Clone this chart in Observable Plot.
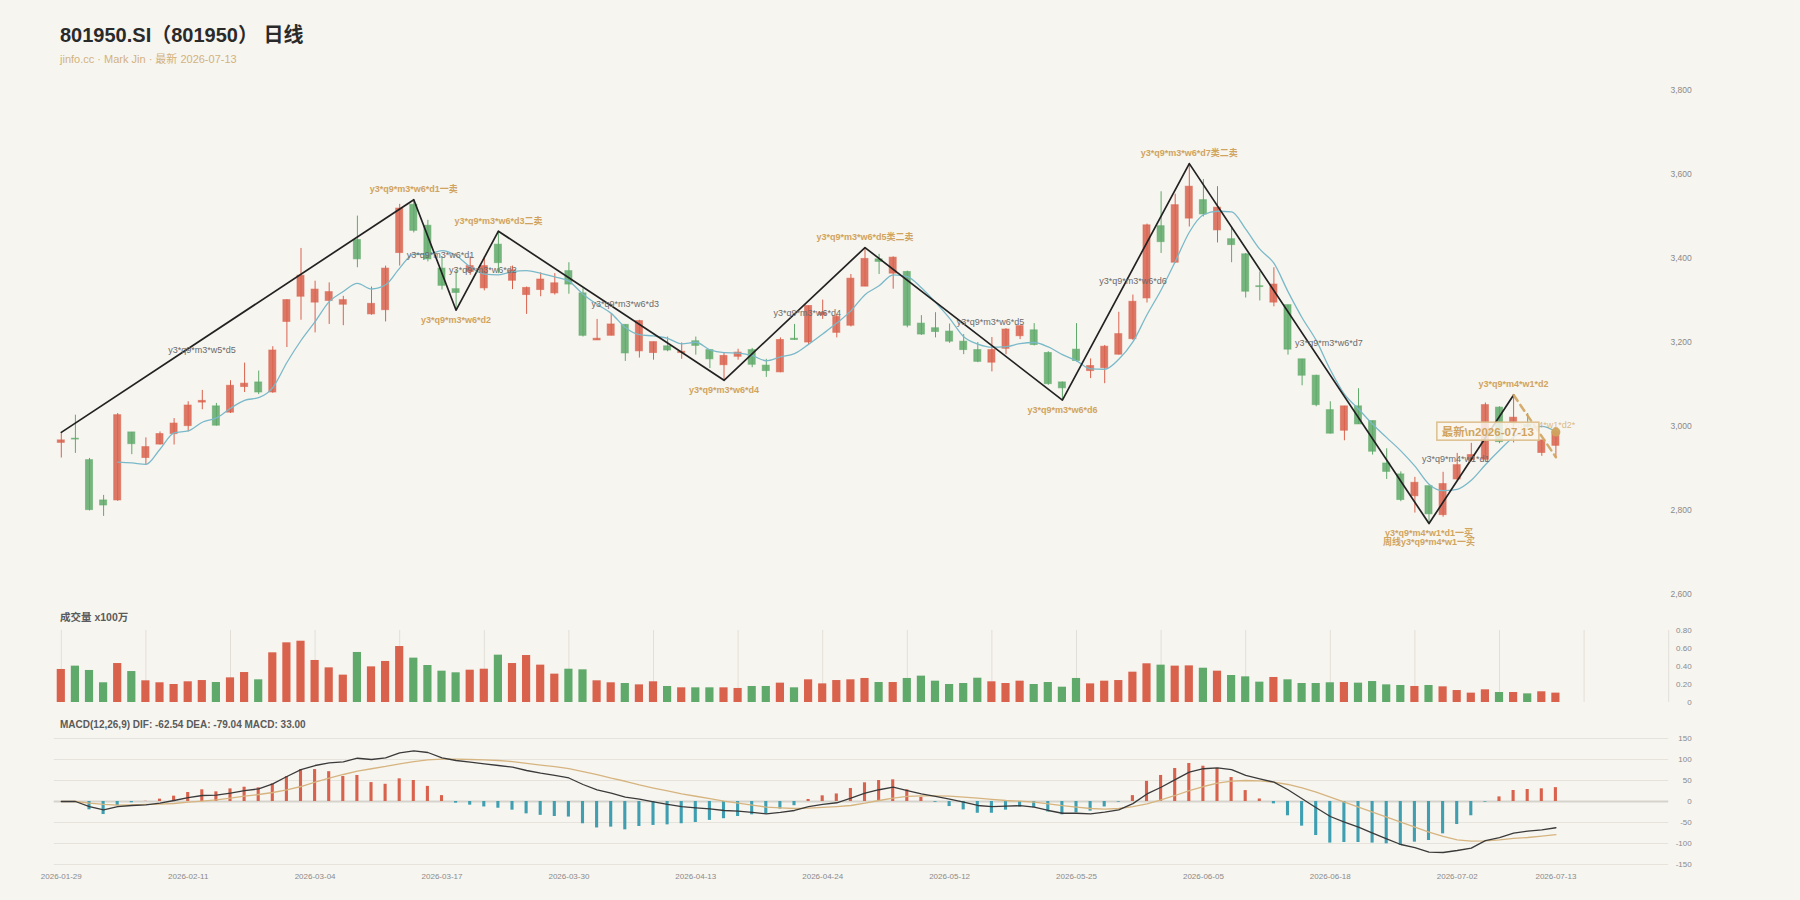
<!DOCTYPE html>
<html><head><meta charset="utf-8">
<script src="https://cdn.jsdelivr.net/npm/d3@7"></script>
<script src="https://cdn.jsdelivr.net/npm/@observablehq/plot@0.6"></script>
<style>
body{margin:0;background:#f7f5f0;font-family:"Liberation Sans","Noto Sans CJK SC",sans-serif;}
#wrap{position:relative;width:1800px;height:900px;overflow:hidden;background:#f7f5f0}
.title{position:absolute;left:60px;top:25px;font-size:20px;line-height:20px;font-weight:bold;color:#2a2a2a;white-space:nowrap}
.sub{position:absolute;left:60px;top:54px;font-size:11px;line-height:11px;color:#d2b27e;white-space:nowrap}
.ptitle{position:absolute;left:60px;font-size:10.5px;line-height:12px;font-weight:bold;color:#5a5a5a;white-space:nowrap}
.panel{position:absolute;left:0}
.panel svg{display:block}
</style></head>
<body><div id="wrap">
<div class="title">801950.SI（801950） 日线</div>
<div class="sub">jinfo.cc · Mark Jin · 最新 2026-07-13</div>
<div id="price" class="panel" style="top:70px"></div>
<div class="ptitle" style="top:611px">成交量 x100万</div>
<div id="vol" class="panel" style="top:622px"></div>
<div class="ptitle" style="top:719px;font-size:10px">MACD(12,26,9) DIF: -62.54 DEA: -79.04 MACD: 33.00</div>
<div id="macd" class="panel" style="top:730px"></div>
</div>
<script>
const dates = ["2026-01-29","2026-01-30","2026-02-02","2026-02-03","2026-02-04","2026-02-05","2026-02-06","2026-02-09","2026-02-10","2026-02-11",
"2026-02-12","2026-02-13","2026-02-24","2026-02-25","2026-02-26","2026-02-27","2026-03-02","2026-03-03","2026-03-04","2026-03-05",
"2026-03-06","2026-03-09","2026-03-10","2026-03-11","2026-03-12","2026-03-13","2026-03-16","2026-03-17","2026-03-18","2026-03-19",
"2026-03-20","2026-03-23","2026-03-24","2026-03-25","2026-03-26","2026-03-27","2026-03-30","2026-03-31","2026-04-01","2026-04-02",
"2026-04-03","2026-04-07","2026-04-08","2026-04-09","2026-04-10","2026-04-13","2026-04-14","2026-04-15","2026-04-16","2026-04-17",
"2026-04-20","2026-04-21","2026-04-22","2026-04-23","2026-04-24","2026-04-27","2026-04-28","2026-04-29","2026-04-30","2026-05-06",
"2026-05-07","2026-05-08","2026-05-11","2026-05-12","2026-05-13","2026-05-14","2026-05-15","2026-05-18","2026-05-19","2026-05-20",
"2026-05-21","2026-05-22","2026-05-25","2026-05-26","2026-05-27","2026-05-28","2026-05-29","2026-06-01","2026-06-02","2026-06-03",
"2026-06-04","2026-06-05","2026-06-08","2026-06-09","2026-06-10","2026-06-11","2026-06-12","2026-06-15","2026-06-16","2026-06-17",
"2026-06-18","2026-06-22","2026-06-23","2026-06-24","2026-06-25","2026-06-26","2026-06-29","2026-06-30","2026-07-01","2026-07-02",
"2026-07-03","2026-07-06","2026-07-07","2026-07-08","2026-07-09","2026-07-10","2026-07-13"];

const open = [2960,2970,2919,2823,2823,2985,2924,2956,2981,3000,
3056,3047,3032,3093,3104,3080,3248,3308,3294,3298,
3289,3443,3266,3276,3412,3527,3477,3375,3326,3367,
3328,3432,3346,3312,3324,3316,3369,3316,3204,3215,
3241,3178,3174,3190,3174,3202,3181,3145,3165,3181,
3144,3128,3208,3199,3264,3222,3239,3332,3397,3363,
3367,3244,3233,3225,3201,3181,3151,3184,3214,3228,
3174,3104,3182,3131,3138,3170,3207,3304,3476,3389,
3494,3538,3466,3445,3409,3333,3294,3288,3159,3120,
3038,2989,3047,3012,2911,2885,2833,2857,2788,2873,
2919,2920,3044,3007,3003,2936,2953];
const high = [2982,3026,2923,2835,3030,2985,2972,2986,3018,3058,
3085,3054,3108,3150,3131,3189,3301,3423,3345,3341,
3309,3500,3331,3381,3528,3539,3490,3403,3371,3403,
3403,3464,3381,3331,3365,3363,3389,3327,3254,3266,
3241,3252,3200,3212,3198,3212,3181,3174,3183,3185,
3159,3210,3242,3286,3300,3266,3361,3425,3409,3403,
3369,3263,3270,3243,3218,3199,3211,3232,3238,3244,
3177,3105,3244,3160,3192,3271,3312,3481,3558,3552,
3625,3587,3570,3474,3411,3367,3377,3288,3159,3121,
3058,3047,3089,3012,2946,2891,2878,2857,2890,2935,
2959,3055,3046,3074,3030,2966,2994];
const low = [2924,2935,2798,2785,2821,2932,2907,2955,2955,2986,
3039,3000,3030,3080,3075,3078,3187,3252,3222,3242,
3239,3377,3264,3248,3381,3460,3391,3324,3276,3359,
3322,3363,3325,3266,3308,3312,3314,3212,3204,3215,
3154,3162,3157,3177,3159,3169,3137,3109,3157,3139,
3116,3127,3204,3194,3254,3210,3236,3332,3361,3326,
3234,3216,3210,3197,3170,3151,3129,3170,3206,3191,
3097,3062,3153,3113,3101,3169,3204,3293,3411,3387,
3474,3498,3436,3389,3305,3298,3284,3169,3096,3046,
2981,2965,3004,2931,2873,2820,2793,2768,2783,2870,
2915,2915,2958,2960,2990,2928,2924];
const close = [2966,2968,2800,2811,3026,2957,2950,2981,3006,3049,
3060,3001,3096,3101,3080,3180,3300,3358,3325,3319,
3300,3397,3291,3375,3518,3465,3397,3334,3317,3381,
3381,3388,3371,3329,3349,3340,3337,3215,3208,3242,
3173,3250,3200,3180,3177,3191,3159,3167,3175,3146,
3131,3205,3205,3286,3270,3260,3351,3398,3391,3401,
3239,3218,3224,3201,3181,3153,3181,3230,3238,3193,
3100,3090,3155,3143,3189,3219,3296,3478,3438,3526,
3570,3504,3520,3431,3320,3331,3337,3182,3120,3050,
2982,3047,3004,2939,2891,2824,2865,2790,2862,2907,
2931,3050,2962,3020,2998,2966,2986];
const volume = [0.367,0.404,0.356,0.219,0.433,0.344,0.241,0.219,0.200,0.230,
0.244,0.222,0.274,0.333,0.252,0.552,0.663,0.681,0.467,0.385,
0.304,0.556,0.396,0.456,0.622,0.493,0.411,0.348,0.330,0.359,
0.370,0.526,0.433,0.522,0.415,0.315,0.370,0.363,0.241,0.219,
0.211,0.196,0.230,0.178,0.163,0.163,0.163,0.163,0.156,0.178,
0.178,0.215,0.163,0.252,0.207,0.244,0.252,0.267,0.222,0.222,
0.267,0.293,0.237,0.200,0.211,0.270,0.230,0.211,0.237,0.200,
0.222,0.170,0.267,0.207,0.237,0.244,0.337,0.430,0.415,0.404,
0.407,0.381,0.348,0.300,0.285,0.226,0.278,0.252,0.211,0.211,
0.219,0.222,0.215,0.233,0.196,0.189,0.178,0.189,0.174,0.133,
0.104,0.141,0.111,0.111,0.096,0.119,0.104];
const dif = [0,0,-12,-20,-12,-9.5,-8,-4,2.4,9,
14.3,15,20,26,30,42,59.5,76,85.7,92,
94.5,103,100,104,116,120.6,116.7,104,97.6,93.7,
89.7,85.7,81.8,73.8,67.5,62,56,40.5,27.8,20,
10.3,5.6,-0.8,-7,-12,-15,-17.5,-21.4,-23,-26,
-29.4,-26,-21.4,-12,-7,-3,8,20,28,34,
26,18,12,5.6,-1.6,-9.5,-12,-11,-10,-13.5,
-21.4,-28,-28,-29.4,-25.4,-20,-5,18,34,52,
70,78,80,76,62,54,46,28,6.4,-15,
-35.7,-49,-61,-75.4,-89,-102.4,-110,-120.6,-121.4,-116.7,
-111,-93,-86,-75.4,-70.6,-67.5,-62.54];
const dea = [0,0,-4,-7,-8.7,-8,-7,-6.3,-4.8,-1.6,
1,4,8,12.7,16.7,21.4,27.8,35.7,46,55.6,
64.3,72.2,78,83.4,89.7,95,99,101,101,100,
99,97.6,95,90.7,86.8,82.8,78.1,71.2,63.8,55.4,
48.2,39.6,32.1,25.1,18.4,12.5,6.9,0.8,-3.8,-8.5,
-13.3,-15,-16.7,-16,-14,-12,-9.5,-4,2.4,8,
12,13.5,13.5,12.7,10.3,8,5,2.4,0.8,-1.6,
-5.6,-10,-13.5,-16.7,-18,-16.7,-12,-5.6,4,14.3,
26,35.7,43.7,48.4,50,49,46,40.5,32.5,22.2,
10.3,-1.6,-13.5,-25.4,-37.3,-49,-61,-73,-83.3,-91.3,
-94.4,-93.6,-91.3,-88,-85.7,-82.5,-79.04];
const macdHist = [0,0,-19.8,-31,-10,-3,0.5,5.6,12.7,21.4,
27.8,23,30,34,32.5,42,59.5,76,76,71,
59.5,62,45,41,54,50,36,14,-4,-8.7,
-13,-16,-20.6,-29.4,-33,-35.7,-37,-53,-63,-61,
-67.5,-59.5,-57,-55.6,-53,-50,-45,-41,-35.7,-31.7,
-29.4,-18,-10,4.8,13.5,18,31,44.5,50,51.6,
27.8,10,-2,-12,-20,-28,-28,-20.6,-13,-15,
-25,-31.7,-27,-23,-13,-1.6,14,48,62,78.6,
90.5,84,78.6,57,26,6,-5.6,-34,-58.7,-81,
-99,-97.6,-97.6,-99,-100.8,-104.7,-96.8,-92.9,-77,-54.8,
-34,-1.6,11,26.2,28.6,30.2,33];

// zigzag pivots
const pivotIdx = [0,25,28,31,47,57,71,80,97,103];
const pivotPrice = [2985,3539,3276,3464,3109,3425,3062,3625,2768,3074];
// pending (dashed) leg
const pendIdx = [103,106];
const pendPrice = [3074,2926];
// signal labels at pivots
const sigIdx = [25,31,28,47,57,71,80,97,103];
const sigPrice = [3539,3464,3276,3109,3425,3062,3625,2768,3074];
const sigText = ["y3*q9*m3*w6*d1一卖","y3*q9*m3*w6*d3二卖","y3*q9*m3*w6*d2","y3*q9*m3*w6*d4","y3*q9*m3*w6*d5类二卖","y3*q9*m3*w6*d6","y3*q9*m3*w6*d7类二卖","y3*q9*m4*w1*d1一买\n周线y3*q9*m4*w1一买","y3*q9*m4*w1*d2"];
const sigSide = ["top","top","bottom","bottom","top","bottom","top","bottom","top"];
// segment labels
const segIdx = [9.98,26.9,29.9,40,52.9,65.9,76,89.9,98.9];
const segPrice = [3181,3408,3371,3290,3270,3247,3345,3198,2921];
const segText = ["y3*q9*m3*w5*d5","y3*q9*m3*w6*d1","y3*q9*m3*w6*d2","y3*q9*m3*w6*d3","y3*q9*m3*w6*d4","y3*q9*m3*w6*d5","y3*q9*m3*w6*d6","y3*q9*m3*w6*d7","y3*q9*m4*w1*d1"];
const pendLabelIdx = [104.85];
const pendLabelPrice = [3002];
const pendLabelText = ["y3*q9*m4*w1*d2*"];
const latestText = "最新\\n2026-07-13";

// ticks
const priceTicks = [2600,2800,3000,3200,3400,3600,3800];
const volTicks = [0,0.2,0.4,0.6,0.8];
const macdTicks = [-150,-100,-50,0,50,100,150];
const dateTickIdx = [0,9,18,27,36,45,54,63,72,81,90,99,106];
const volGridIdx = [0,6,12,18,24,30,36,42,48,54,60,66,72,78,84,90,96,102,108,114];

// ---------- build ----------
const RED = "#d9624d", GREEN = "#5fa96a", GOLD = "#d0a45e";
const FONT = '"Liberation Sans","Noto Sans CJK SC",sans-serif';
const candles = dates.map((d, i) => ({i, date: d, open: open[i], high: high[i], low: low[i], close: close[i], vol: volume[i],
  dif: dif[i], dea: dea[i], hist: macdHist[i], col: close[i] >= open[i] ? RED : GREEN}));
const pivots = pivotIdx.map((x, k) => ({x, p: pivotPrice[k]}));
const pend = pendIdx.map((x, k) => ({x, p: pendPrice[k]}));
const sigs = sigIdx.map((x, k) => ({x, p: sigPrice[k], t: sigText[k], side: sigSide[k]}));
const segs = segIdx.map((x, k) => ({x, p: segPrice[k], t: segText[k]}));
const pendLab = pendLabelIdx.map((x, k) => ({x, p: pendLabelPrice[k], t: pendLabelText[k]}));
const last = candles[candles.length - 1];

const W = 1800;
const xDomain = [-0.5, 114];
const ML = 53.75, MR = W - 1668.2;
const baseStyle = {background: "transparent", fontFamily: FONT, overflow: "visible"};

const priceSvg = Plot.plot({
  width: W, height: 540, marginTop: 19.6, marginBottom: 16.4, marginLeft: ML, marginRight: MR,
  style: baseStyle,
  x: {domain: xDomain, axis: null},
  y: {domain: [2600, 3800], axis: null},
  marks: [
    Plot.axisY({ticks: priceTicks, anchor: "right", tickSize: 0, tickPadding: 23, textAnchor: "end", label: null,
      tickFormat: d3.format(","), fill: "#8a8a8a", fontSize: 8.5}),
    Plot.ruleX(candles, {x: "i", y1: "low", y2: "high", stroke: "col", strokeWidth: 1}),
    Plot.rect(candles, {x1: d => d.i - 0.25, x2: d => d.i + 0.25, y1: "open", y2: "close",
      fill: "col", fillOpacity: 0.85, stroke: "col", strokeOpacity: 0.55, strokeWidth: 1}),
    Plot.lineY(candles, Plot.windowY({k: 5, anchor: "end", strict: true},
      {x: "i", y: "close", stroke: "#7ab9c9", strokeWidth: 1.3, curve: "monotone-x"})),
    Plot.line(pivots, {x: "x", y: "p", stroke: "#222", strokeWidth: 1.7}),
    Plot.line(pend, {x: "x", y: "p", stroke: GOLD, strokeWidth: 2.5, strokeDasharray: "7,5", strokeOpacity: 0.9}),
    Plot.text(segs, {x: "x", y: "p", text: "t", fill: "#6a6a6a", fontSize: 9, fontFamily: FONT}),
    Plot.text(pendLab, {x: "x", y: "p", text: "t", fill: GOLD, fillOpacity: 0.75, fontSize: 9, fontFamily: FONT}),
    Plot.text(sigs.filter(d => d.side === "top"), {x: "x", y: "p", text: "t", fill: GOLD, fontWeight: "bold",
      fontSize: 9, fontFamily: FONT, lineAnchor: "middle", dy: -10.5}),
    Plot.text(sigs.filter(d => d.side === "bottom"), {x: "x", y: "p", text: "t", fill: GOLD, fontWeight: "bold",
      fontSize: 9, fontFamily: FONT, lineAnchor: "top", dy: 6.5, lineHeight: 1}),
    Plot.dot([last], {x: "i", y: "close", r: 4.5, fill: GOLD, fillOpacity: 0.95}),
    Plot.text([last], {x: "i", y: "close", text: () => latestText, textAnchor: "end", dx: -22,
      fill: GOLD, fontWeight: "bold", fontSize: 11.5, fontFamily: FONT})
  ]
});
document.getElementById("price").appendChild(priceSvg);
// box behind the latest label
{
  const tg = priceSvg.querySelectorAll('g[aria-label="text"]');
  const g = tg[tg.length - 1];
  const bb = g.getBBox();
  const r = document.createElementNS("http://www.w3.org/2000/svg", "rect");
  r.setAttribute("x", bb.x - 5); r.setAttribute("y", bb.y - 2.5);
  r.setAttribute("width", bb.width + 10); r.setAttribute("height", bb.height + 5);
  r.setAttribute("fill", "rgba(250,246,237,0.85)"); r.setAttribute("stroke", "#dcbf8c"); r.setAttribute("stroke-width", "1.5");
  g.insertBefore(r, g.firstChild);
}

const volSvg = Plot.plot({
  width: W, height: 86, marginTop: 8, marginBottom: 6, marginLeft: ML, marginRight: MR,
  style: baseStyle,
  x: {domain: xDomain, axis: null},
  y: {domain: [0, 0.8], axis: null},
  marks: [
    Plot.gridX({ticks: volGridIdx, stroke: "#e2dfd8", strokeOpacity: 1}),
    Plot.axisY({ticks: volTicks, anchor: "right", tickSize: 0, tickPadding: 23, textAnchor: "end", label: null,
      tickFormat: d => d === 0 ? "0" : d.toFixed(2), fill: "#8a8a8a", fontSize: 8}),
    Plot.rectY(candles, {x1: d => d.i - 0.29, x2: d => d.i + 0.29, y: "vol", fill: "col"})
  ]
});
document.getElementById("vol").appendChild(volSvg);

const macdSvg = Plot.plot({
  width: W, height: 160, marginTop: 8, marginBottom: 26, marginLeft: ML, marginRight: MR,
  style: baseStyle,
  x: {domain: xDomain, axis: null},
  y: {domain: [-150, 150], axis: null},
  marks: [
    Plot.gridY({ticks: macdTicks, stroke: "#e6e3dc", strokeOpacity: 1}),
    Plot.ruleY([0], {stroke: "#d6d3cc", strokeWidth: 2}),
    Plot.axisY({ticks: macdTicks, anchor: "right", tickSize: 0, tickPadding: 23, textAnchor: "end", label: null,
      tickFormat: d => String(d), fill: "#8a8a8a", fontSize: 8}),
    Plot.axisX({ticks: dateTickIdx, anchor: "bottom", tickSize: 0, tickPadding: 9, label: null,
      tickFormat: i => dates[i], fill: "#8a8a8a", fontSize: 8}),
    Plot.rectY(candles, {x1: d => d.i - 0.11, x2: d => d.i + 0.11, y: "hist",
      fill: d => d.hist >= 0 ? RED : "#3f9fb1"}),
    Plot.line(candles, {x: "i", y: "dea", stroke: "#d6b47f", strokeWidth: 1.3}),
    Plot.line(candles, {x: "i", y: "dif", stroke: "#3a3a3a", strokeWidth: 1.3})
  ]
});
document.getElementById("macd").appendChild(macdSvg);
</script>
</body></html>
